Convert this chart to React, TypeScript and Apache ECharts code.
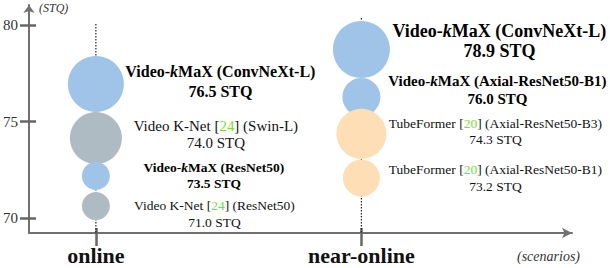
import React, { useEffect, useRef } from "react";
import * as echarts from "echarts";

// ---- data ----
const categories = ["online", "near-online"];
const methods = ["Video-kMaX", "Video K-Net", "Video-kMaX", "Video K-Net", "Video-kMaX", "Video-kMaX", "TubeFormer", "TubeFormer"];
const refs: (number | null)[] = [null, 24, null, 24, null, null, 20, 20];
const backbones = ["ConvNeXt-L", "Swin-L", "ResNet50", "ResNet50", "ConvNeXt-L", "Axial-ResNet50-B1", "Axial-ResNet50-B3", "Axial-ResNet50-B1"];
const stq = [76.5, 74.0, 73.5, 71.0, 78.9, 76.0, 74.3, 73.2];
const scenarioIndex = [0, 0, 0, 0, 1, 1, 1, 1];
// plotted (schematic) vertical position of each bubble
const bubbleY = [76.95, 74.15, 72.19, 70.63, 78.74, 76.28, 74.37, 72.08];
const bubbleSize = [56, 52, 28, 28, 57, 38, 50, 37];
const yTicks = [70, 75, 80];
const guideTop = [80.06, 80.37];

// ---- layout / style ----
const FONT = "'Liberation Serif', 'Times New Roman', serif";
const Y_MIN = 69.232;
const Y_MAX = 81.045;
const X_MIN = 0.7481;
const X_MAX = 2.7932;
const methodColor: Record<string, string> = {
  "Video-kMaX": "#A0C4E8",
  "Video K-Net": "#AEBBC2",
  TubeFormer: "#FEDEB5",
};
const labelLayout = [
  { dx: 124.5, dy: -2.3, fs: 16, lh: 20 },
  { dx: 120, dy: -4, fs: 15, lh: 17 },
  { dx: 118, dy: -0.5, fs: 13.5, lh: 16.5 },
  { dx: 118.5, dy: 8, fs: 13.5, lh: 17.5 },
  { dx: 138, dy: -8, fs: 18, lh: 20 },
  { dx: 136, dy: -7, fs: 15, lh: 18 },
  { dx: 134, dy: -2, fs: 13.5, lh: 16 },
  { dx: 134, dy: 0, fs: 13.5, lh: 16.5 },
];
const AXIS_COLOR = "#707070";
const TICK_COLOR = "#666666";
const GREEN = "#72e036";

function buildLabel(i: number) {
  const m = methods[i];
  const v = stq[i].toFixed(1) + " STQ";
  if (m === "Video-kMaX") {
    return `{b${i}|Video-}{k${i}|k}{b${i}|MaX (${backbones[i]})}\n{b${i}|${v}}`;
  }
  return `{n${i}|${m} [}{g${i}|${refs[i]}}{n${i}|] (${backbones[i]})}\n{n${i}|${v}}`;
}

function buildRich(i: number) {
  const { fs, lh } = labelLayout[i];
  const base = { fontFamily: FONT, fontSize: fs, lineHeight: lh, color: "#000" };
  return {
    [`b${i}`]: { ...base, fontWeight: "bold" },
    [`k${i}`]: { ...base, fontWeight: "bold", fontStyle: "italic" },
    [`n${i}`]: { ...base, color: "#111" },
    [`g${i}`]: { ...base, color: GREEN },
  };
}

export default function App() {
  const ref = useRef<HTMLDivElement>(null);
  useEffect(() => {
    if (!ref.current) return;
    const chart = echarts.init(ref.current, undefined, { renderer: "svg" });

    const bubbleData = methods.map((m, i) => {
      const { dx, dy } = labelLayout[i];
      return {
        value: [scenarioIndex[i] + 1, bubbleY[i]],
        symbolSize: bubbleSize[i],
        itemStyle: { color: methodColor[m], opacity: 1 },
        label: {
          show: true,
          position: "inside",
          offset: [dx, dy],
          align: "center",
          verticalAlign: "middle",
          formatter: buildLabel(i),
          rich: buildRich(i),
        },
      };
    });

    const guideSeries = categories.map((c, k) => ({
      type: "line",
      name: c,
      data: [
        [k + 1, guideTop[k]],
        [k + 1, Y_MIN],
      ],
      symbol: "none",
      z: 1,
      lineStyle: { color: "#222", width: 1.2, type: [1.5, 1.5] },
      silent: true,
    }));

    const xCommon = {
      type: "value",
      min: X_MIN,
      max: X_MAX,
      splitLine: { show: false },
    };
    const yCommon = {
      type: "value",
      min: Y_MIN,
      max: Y_MAX,
      splitLine: { show: false },
    };

    chart.setOption({
      animation: false,
      backgroundColor: "#fff",
      grid: { left: 28, right: 38, top: 5, bottom: 35, containLabel: false },
      xAxis: [
        {
          ...xCommon,
          position: "bottom",
          axisLine: {
            show: true,
            onZero: false,
            lineStyle: { color: AXIS_COLOR, width: 2 },
            symbol: ["none", "arrow"],
            symbolSize: [8, 10],
          },
          axisTick: {
            show: true,
            customValues: [1, 2],
            length: 13,
            lineStyle: { color: TICK_COLOR, width: 2.5 },
          },
          axisLabel: {
            show: true,
            customValues: [1, 2],
            formatter: (v: number) => categories[Math.round(v) - 1] ?? "",
            fontFamily: FONT,
            fontWeight: "bold",
            fontSize: 22,
            color: "#111",
            margin: 11,
          },
          name: "(scenarios)",
          nameLocation: "end",
          nameGap: 8,
          nameTextStyle: {
            fontFamily: FONT,
            fontStyle: "italic",
            fontSize: 14,
            color: "#333",
            align: "right",
            verticalAlign: "top",
            padding: [16, 0, 0, 0],
          },
        },
        {
          ...xCommon,
          position: "bottom",
          axisLine: { show: false, onZero: false },
          axisTick: {
            show: true,
            inside: true,
            customValues: [1, 2],
            length: 5,
            lineStyle: { color: TICK_COLOR, width: 2.5 },
          },
          axisLabel: { show: false },
        },
      ],
      yAxis: [
        {
          ...yCommon,
          position: "left",
          axisLine: {
            show: true,
            onZero: false,
            lineStyle: { color: AXIS_COLOR, width: 2 },
            symbol: ["none", "arrow"],
            symbolSize: [8.5, 8],
          },
          axisTick: {
            show: true,
            customValues: yTicks,
            length: 9,
            lineStyle: { color: TICK_COLOR, width: 2.5 },
          },
          axisLabel: {
            show: true,
            customValues: yTicks,
            fontFamily: FONT,
            fontSize: 15,
            color: "#333",
            margin: 11,
          },
          name: "(STQ)",
          nameLocation: "end",
          nameGap: -3,
          nameTextStyle: {
            fontFamily: FONT,
            fontStyle: "italic",
            fontSize: 12,
            color: "#333",
            align: "left",
            verticalAlign: "middle",
            padding: [0, 0, 0, 10],
          },
        },
        {
          ...yCommon,
          position: "left",
          axisLine: { show: false, onZero: false },
          axisTick: {
            show: true,
            inside: true,
            customValues: yTicks,
            length: 7,
            lineStyle: { color: TICK_COLOR, width: 2.5 },
          },
          axisLabel: { show: false },
        },
      ],
      series: [
        ...guideSeries,
        {
          type: "scatter",
          name: "models",
          z: 3,
          data: bubbleData,
        },
      ],
    });

    return () => chart.dispose();
  }, []);

  return (
    <div
      ref={ref}
      style={{ position: "fixed", left: 0, top: 0, width: 610, height: 268, background: "#fff" }}
    />
  );
}
